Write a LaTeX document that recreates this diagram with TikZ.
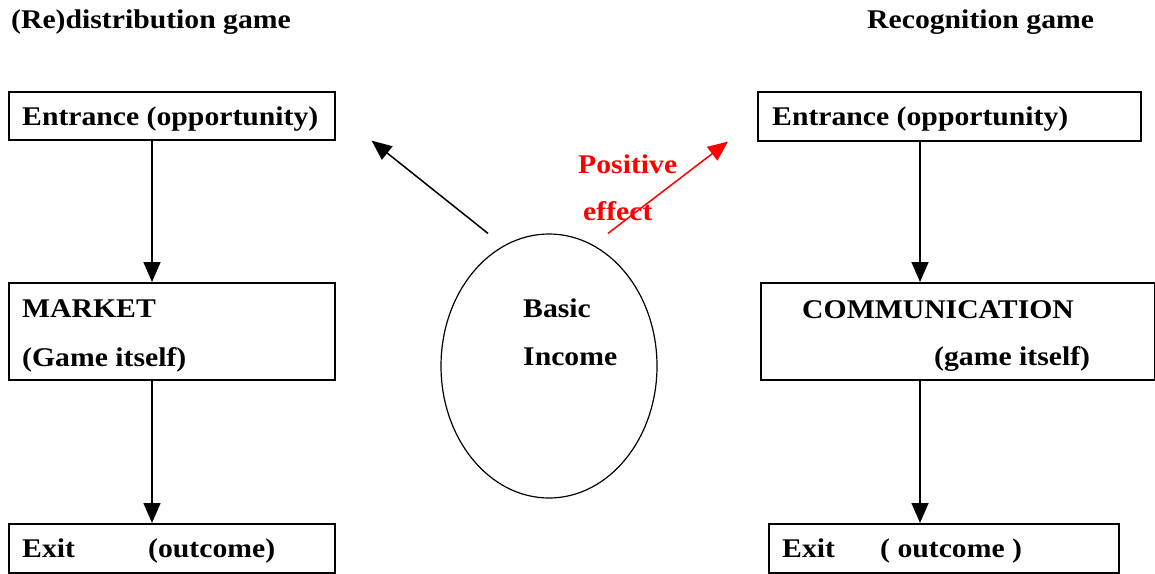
\documentclass[tikz,border=0pt]{standalone}
\usepackage{fontspec}
\setmainfont[FakeStretch=1.10]{Liberation Serif}
\usepackage{tikz}
\usetikzlibrary{shapes.geometric}
\usetikzlibrary{positioning}
\usetikzlibrary{arrows.meta}
\begin{document}
\begin{tikzpicture}[x=1pt,y=-1pt,
  font=\fontsize{27}{30}\selectfont\bfseries,
  box/.style={draw,line width=1.6pt,inner sep=0pt,anchor=north west},
  txt/.style={anchor=base west,inner sep=0pt},
  arr/.style={line width=1.5pt,-{Triangle[length=20pt,width=17pt]}}]
\useasboundingbox (0,0) rectangle (1155,573);
\node[txt] (tred) at (11,28) {(Re)distribution game};
\node[txt] (trec) at (867,28) {Recognition game};
% (re)distribution side
\node[box,minimum width=326pt,minimum height=48pt] (ent1) at (8,91) {};
\node[box,minimum width=326pt,minimum height=97pt] (mkt) at (8,282) {};
\node[box,minimum width=326pt,minimum height=49pt] (ex1) at (8,523) {};
\node[txt] (ent1a) at (22,125) {Entrance (opportunity)};
\node[txt] (mkta) at (22,317) {MARKET};
\node[txt] (mktb) at (22,366) {(Game itself)};
\node[txt] (ex1a) at (22,557) {Exit};
\node[txt] (ex1b) at (148,557) {(outcome)};
\draw[arr] ([xshift=144pt]ent1.south west)--([xshift=144pt]mkt.north west);
\draw[arr] ([xshift=144pt]mkt.south west)--([xshift=144pt]ex1.north west);
% recognition side
\node[box,minimum width=383pt,minimum height=49pt] (ent2) at (757,91) {};
\node[box,minimum width=394pt,minimum height=97pt] (comm) at (760,282) {};
\node[box,minimum width=350pt,minimum height=49pt] (ex2) at (768,523) {};
\node[txt] (ent2a) at (772,125) {Entrance (opportunity)};
\node[txt] (comma) at (802,318) {COMMUNICATION};
\node[txt] (commb) at (934,365) {(game itself)};
\node[txt] (ex2a) at (782,557) {Exit};
\node[txt] (ex2b) at (880,557) {( outcome )};
\draw[arr] ([xshift=163pt]ent2.south west)--([xshift=160pt]comm.north west);
\draw[arr] ([xshift=160pt]comm.south west)--([xshift=152pt]ex2.north west);
% basic income
\node[draw,ellipse,line width=1.2pt,inner sep=0pt,minimum width=216pt,minimum height=264pt] (bi) at (549,366) {};
\node[txt] (bia) at (523,317) {Basic};
\node[txt] (bib) at (523,365) {Income};
\draw[arr] ([xshift=-61pt]bi.north)--([xshift=36pt]ent1.south east);
\draw[arr,red] ([xshift=59pt]bi.north)--([xshift=-29pt]ent2.south west);
\node[txt,red] (pos) at (578,173) {Positive};
\node[txt,red] (eff) at (583,220) {effect};
\end{tikzpicture}
\end{document}
